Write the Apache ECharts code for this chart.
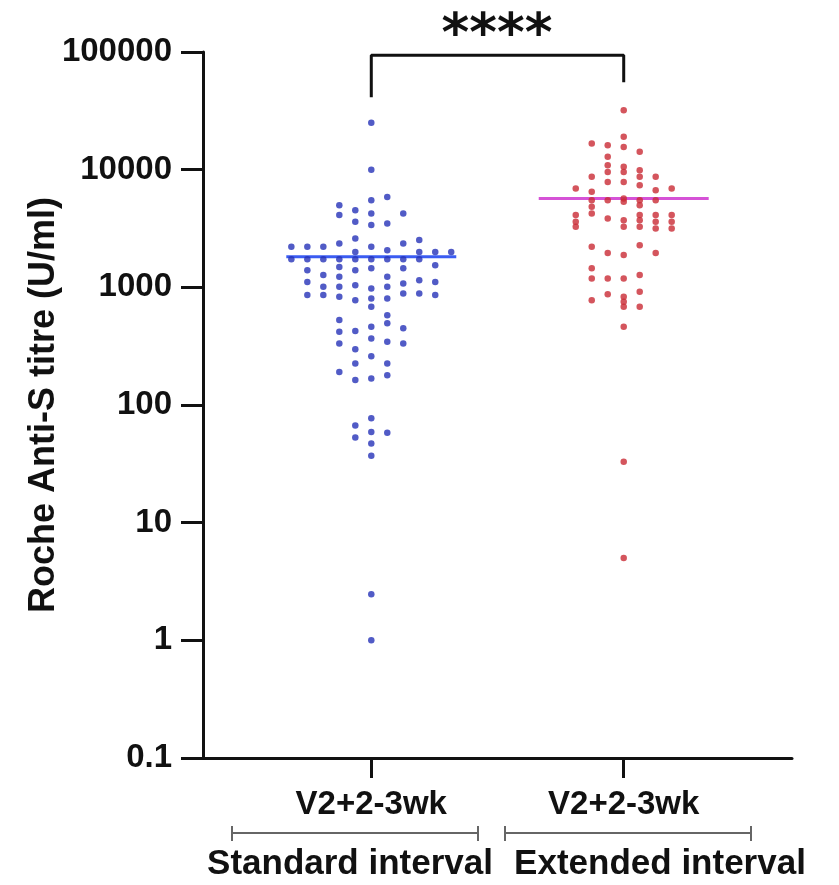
<!DOCTYPE html>
<html>
<head>
<meta charset="utf-8">
<script src="https://cdn.jsdelivr.net/npm/echarts@6/dist/echarts.min.js"></script>
<style>
  html, body { margin: 0; padding: 0; background: #ffffff; }
  #chart { width: 839px; height: 885px; }
</style>
</head>
<body>
<div id="chart"></div>
<script>
// ---------- data ----------
const categories = ['V2+2-3wk', 'V2+2-3wk'];
const groupNames = ['Standard interval', 'Extended interval'];
const yTicks = [0.1, 1, 10, 100, 1000, 10000, 100000];
const yAxisTitle = 'Roche Anti-S titre (U/ml)';
const significance = '****';

// beeswarm points: [column index in swarm, titre]
const standardPoints = [
  [-5, 2210], [-5, 1730],
  [-4, 2210], [-4, 1730], [-4, 1400], [-4, 1110], [-4, 859],
  [-3, 2210], [-3, 1730], [-3, 1270], [-3, 1010], [-3, 859],
  [-2, 4990], [-2, 4110], [-2, 2360], [-2, 1730], [-2, 1490], [-2, 1230], [-2, 1010], [-2, 830],
  [-2, 527], [-2, 419], [-2, 333], [-2, 191],
  [-1, 4530], [-1, 3610], [-1, 2600], [-1, 2000], [-1, 1730], [-1, 1400], [-1, 1040], [-1, 778],
  [-1, 425], [-1, 297], [-1, 225], [-1, 163], [-1, 67], [-1, 53],
  [0, 25000], [0, 10000], [0, 5500], [0, 4250], [0, 3380], [0, 2210], [0, 1730], [0, 1450],
  [0, 978], [0, 804], [0, 683], [0, 462], [0, 368], [0, 260], [0, 168], [0, 77], [0, 59],
  [0, 47], [0, 37], [0, 2.47], [0, 1.0],
  [1, 5870], [1, 3490], [1, 2070], [1, 1730], [1, 1230], [1, 1010], [1, 804], [1, 580],
  [1, 494], [1, 344], [1, 225], [1, 179], [1, 58],
  [2, 4250], [2, 2360], [2, 1730], [2, 1450], [2, 1080], [2, 888], [2, 448], [2, 333],
  [3, 2520], [3, 2000], [3, 1730], [3, 1150], [3, 888],
  [4, 2000], [4, 1540], [4, 1110], [4, 859],
  [5, 2000]
];
const extendedPoints = [
  [-3, 6920], [-3, 4110], [-3, 3610], [-3, 3270],
  [-2, 16700], [-2, 8690], [-2, 6480], [-2, 5500], [-2, 4830], [-2, 4250], [-2, 2210], [-2, 1450],
  [-2, 1190], [-2, 778],
  [-1, 16100], [-1, 12900], [-1, 10900], [-1, 9570], [-1, 7870], [-1, 5500], [-1, 3850], [-1, 1960],
  [-1, 1190], [-1, 875],
  [0, 32000], [0, 19000], [0, 15600], [0, 10600], [0, 9570], [0, 7870], [0, 5700], [0, 5330],
  [0, 3720], [0, 3270], [0, 1880], [0, 1190], [0, 830], [0, 753], [0, 683], [0, 462], [0, 33], [0, 5.0],
  [1, 14200], [1, 9900], [1, 8690], [1, 7380], [1, 5500], [1, 4990], [1, 4110], [1, 3720], [1, 3270],
  [1, 2280], [1, 1270], [1, 917], [1, 683],
  [2, 8690], [2, 6700], [2, 5500], [2, 4110], [2, 3610], [2, 3160], [2, 1960],
  [3, 6920], [3, 4110], [3, 3610], [3, 3160]
];
const medians = [1820, 5700];
// significance bracket: [left leg bottom, bracket top, right leg bottom]
const bracketValues = [41300, 94000, 55300];

// ---------- layout helpers (not data) ----------
const centers = [2, 5];       // x positions of the two groups on the value axis
const colStep = 0.19;         // swarm column spacing in axis units
const medianHalf = 1.01;

function swarm(points, c) {
  return points.map(p => [c + p[0] * colStep, p[1]]);
}

const FONT = '"Liberation Sans", Arial, Helvetica, sans-serif';

const chart = echarts.init(document.getElementById('chart'), null, { renderer: 'canvas' });

const option = {
  backgroundColor: '#ffffff',
  animation: false,
  grid: { left: 203, right: 47, top: 52, bottom: 127, containLabel: false },
  xAxis: {
    type: 'value',
    min: 0,
    max: 7,
    splitLine: { show: false },
    axisLine: { show: true, onZero: false, lineStyle: { color: '#111', width: 3 } },
    axisTick: { show: true, length: 20, lineStyle: { color: '#111', width: 3 }, customValues: centers },
    axisLabel: {
      show: true,
      customValues: centers,
      margin: 30,
      color: '#111',
      fontFamily: FONT,
      fontWeight: 'bold',
      fontSize: 33,
      formatter: v => categories[Math.abs(v - centers[0]) < 0.5 ? 0 : 1]
    }
  },
  yAxis: {
    type: 'log',
    logBase: 10,
    min: 0.1,
    max: 100000,
    name: yAxisTitle,
    nameLocation: 'middle',
    nameGap: 141,
    nameMoveOverlap: false,
    nameTextStyle: { color: '#111', fontFamily: FONT, fontWeight: 'bold', fontSize: 36 },
    splitLine: { show: false },
    minorTick: { show: false },
    axisLine: { show: true, lineStyle: { color: '#111', width: 3 } },
    axisTick: { show: true, length: 22, lineStyle: { color: '#111', width: 3 }, customValues: yTicks },
    axisLabel: {
      customValues: yTicks,
      margin: 31,
      color: '#111',
      fontFamily: FONT,
      fontWeight: 'bold',
      fontSize: 33,
      formatter: v => (v < 1 ? v.toFixed(1) : String(Math.round(v)))
    }
  },
  series: [
    {
      type: 'line',
      data: [[centers[0] - medianHalf, medians[0]], [centers[0] + medianHalf, medians[0]]],
      symbol: 'none',
      lineStyle: { color: '#3b5cf2', width: 3 },
      z: 3
    },
    {
      type: 'line',
      data: [[centers[1] - medianHalf, medians[1]], [centers[1] + medianHalf, medians[1]]],
      symbol: 'none',
      lineStyle: { color: '#d552d6', width: 3 },
      z: 3
    },
    {
      type: 'scatter',
      data: swarm(standardPoints, centers[0]),
      symbol: 'circle',
      symbolSize: 6.5,
      itemStyle: { color: '#2632b8' },
      z: 4
    },
    {
      type: 'scatter',
      data: swarm(extendedPoints, centers[1]),
      symbol: 'circle',
      symbolSize: 6.5,
      itemStyle: { color: '#c92a35' },
      z: 4
    },
    {
      type: 'line',
      data: [
        [centers[0], bracketValues[0]], [centers[0], bracketValues[1]],
        [centers[1], bracketValues[1]], [centers[1], bracketValues[2]]
      ],
      symbol: 'none',
      lineStyle: { color: '#111', width: 3 },
      clip: false,
      z: 5
    }
  ],
  graphic: [
    {
      type: 'text',
      x: 497, y: 37,
      style: {
        text: significance,
        fill: '#111',
        font: 'bold 53px "DejaVu Sans", sans-serif',
        textAlign: 'center',
        textVerticalAlign: 'middle'
      }
    },
    // group brackets under the axis
    { type: 'line', shape: { x1: 232, y1: 833, x2: 478, y2: 833 }, style: { stroke: '#666', lineWidth: 2 } },
    { type: 'line', shape: { x1: 232, y1: 826, x2: 232, y2: 841 }, style: { stroke: '#666', lineWidth: 2 } },
    { type: 'line', shape: { x1: 478, y1: 826, x2: 478, y2: 841 }, style: { stroke: '#666', lineWidth: 2 } },
    { type: 'line', shape: { x1: 505, y1: 833, x2: 751, y2: 833 }, style: { stroke: '#666', lineWidth: 2 } },
    { type: 'line', shape: { x1: 505, y1: 826, x2: 505, y2: 841 }, style: { stroke: '#666', lineWidth: 2 } },
    { type: 'line', shape: { x1: 751, y1: 826, x2: 751, y2: 841 }, style: { stroke: '#666', lineWidth: 2 } },
    {
      type: 'text', x: 350, y: 864,
      style: { text: groupNames[0], fill: '#111', font: 'bold 35px ' + FONT, textAlign: 'center', textVerticalAlign: 'middle' }
    },
    {
      type: 'text', x: 660, y: 864,
      style: { text: groupNames[1], fill: '#111', font: 'bold 35px ' + FONT, textAlign: 'center', textVerticalAlign: 'middle' }
    }
  ]
};

chart.setOption(option);
</script>
</body>
</html>
